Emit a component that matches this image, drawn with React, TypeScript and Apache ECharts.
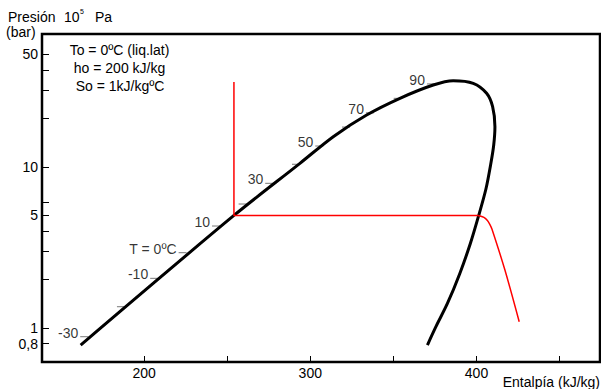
import React, { useEffect, useRef } from 'react';
import * as echarts from 'echarts';

// Axis ticks and labels
const enthalpyTicks = [200, 250, 300, 350, 400, 450];
const enthalpyLabels = [200, 300, 400];
const pressureTicks = [0.8, 1, 2, 3, 4, 5, 6, 10, 20, 30, 40, 50];
const pressureLabels = [0.8, 1, 5, 10, 50];

// Saturation dome (enthalpy kJ/kg, pressure bar)
const domeEnthalpy = [161.85, 254.07, 293.78, 313.81, 333.9, 353.94, 373.97, 386.0, 398.03, 406.09, 409.7, 411.09, 410.36, 408.68, 405.67, 401.16, 396.35, 390.03, 382.51, 375.59, 370.48];
const domePressure = [0.784, 5.0, 10.54, 15.43, 21.04, 26.72, 32.31, 34.36, 33.11, 28.7, 23.69, 17.8, 13.7, 10.59, 7.3, 4.93, 3.36, 2.19, 1.42, 1.02, 0.784];

// Red process line: vertical + horizontal part
const redCornerEnthalpy = [254.07, 254.07, 401.0];
const redCornerPressure = [33.7, 5.0, 5.0];
// Red process line: bend and descending tail
const redTailEnthalpy = [401.0, 404.47, 406.57, 408.08, 409.28, 417.1, 425.7];
const redTailPressure = [5.0, 4.86, 4.65, 4.39, 4.12, 2.29, 1.094];

// Temperature marks on the liquid line
const tempNames = ['-30', '', '-10', 'T = 0ºC', '10', '', '30', '', '50', '', '70', '', '90'];
const tempEnthalpy = [166.4, 188.5, 208.5, 225.6, 245.7, 261.7, 277.7, 293.8, 307.8, 323.9, 338.3, 355.0, 375.0];
const tempPressure = [0.883, 1.356, 2.035, 2.936, 4.3, 5.89, 7.92, 10.4, 13.5, 17.7, 21.7, 26.7, 32.8];

const FONT = '"Liberation Sans", Arial, sans-serif';

export default function App() {
  const ref = useRef<HTMLDivElement>(null);

  useEffect(() => {
    if (!ref.current) return;
    const chart = echarts.init(ref.current, undefined, { renderer: 'svg' });

    const zip = (a: number[], b: number[]) => a.map((v, i) => [v, b[i]]);

    chart.setOption({
      animation: false,
      backgroundColor: '#fff',
      textStyle: { fontFamily: FONT },
      grid: {
        left: 42,
        right: 1,
        top: 34,
        bottom: 27,
        show: true,
        borderColor: '#000',
        borderWidth: 2.5,
        backgroundColor: 'transparent',
      },
      xAxis: {
        type: 'value',
        min: 138.6,
        max: 474.3,
        axisLine: { show: false },
        splitLine: { show: false },
        axisTick: {
          show: true,
          inside: true,
          length: 6,
          lineStyle: { color: '#000', width: 1 },
          customValues: enthalpyTicks,
        },
        axisLabel: {
          show: true,
          customValues: enthalpyLabels,
          margin: 4,
          color: '#000',
          fontSize: 14,
          fontFamily: FONT,
        },
      },
      yAxis: {
        type: 'log',
        logBase: 10,
        min: 0.615,
        max: 67,
        axisLine: { show: false },
        splitLine: { show: false },
        minorTick: { show: false },
        axisTick: {
          show: true,
          inside: true,
          length: 7,
          lineStyle: { color: '#000', width: 1 },
          customValues: pressureTicks,
        },
        axisLabel: {
          show: true,
          customValues: pressureLabels,
          margin: 4,
          color: '#000',
          fontSize: 14,
          fontFamily: FONT,
          formatter: (v: number) => String(Math.round(v * 100) / 100).replace('.', ','),
        },
      },
      series: [
        {
          type: 'scatter',
          silent: true,
          symbol: 'rect',
          symbolSize: [8, 1],
          symbolOffset: [-4, 0],
          itemStyle: { color: '#555' },
          label: {
            show: true,
            position: 'left',
            distance: 2,
            offset: [0, -4],
            color: '#000',
            fontSize: 14,
            fontFamily: FONT,
            formatter: (p: any) => p.name,
          },
          data: tempNames.map((n, i) => ({ name: n, value: [tempEnthalpy[i], tempPressure[i]] })),
          z: 2,
        },
        {
          type: 'line',
          silent: true,
          showSymbol: false,
          smooth: 0.3,
          lineStyle: { color: '#000', width: 3 },
          data: zip(domeEnthalpy, domePressure),
          z: 3,
        },
        {
          type: 'line',
          silent: true,
          showSymbol: false,
          lineStyle: { color: '#ff0000', width: 1.5 },
          data: zip(redCornerEnthalpy, redCornerPressure),
          z: 4,
        },
        {
          type: 'line',
          silent: true,
          showSymbol: false,
          smooth: 0.3,
          lineStyle: { color: '#ff0000', width: 1.5 },
          data: zip(redTailEnthalpy, redTailPressure),
          z: 4,
        },
      ],
      graphic: [
        { type: 'text', x: 8, y: 17, style: { text: 'Presión', font: `14px ${FONT}`, fill: '#000', verticalAlign: 'middle' } },
        { type: 'text', x: 64, y: 17, style: { text: '10', font: `14px ${FONT}`, fill: '#000', verticalAlign: 'middle' } },
        { type: 'text', x: 80, y: 11, style: { text: '5', font: `7px ${FONT}`, fill: '#000', verticalAlign: 'middle' } },
        { type: 'text', x: 95, y: 17, style: { text: 'Pa', font: `14px ${FONT}`, fill: '#000', verticalAlign: 'middle' } },
        { type: 'text', x: 6, y: 31.5, style: { text: '(bar)', font: `14px ${FONT}`, fill: '#000', verticalAlign: 'middle' } },
        { type: 'text', x: 119.5, y: 50, style: { text: 'To = 0ºC (liq.lat)', font: `14px ${FONT}`, fill: '#000', align: 'center', verticalAlign: 'middle' } },
        { type: 'text', x: 119.5, y: 68.3, style: { text: 'ho = 200 kJ/kg', font: `14px ${FONT}`, fill: '#000', align: 'center', verticalAlign: 'middle' } },
        { type: 'text', x: 120, y: 85.5, style: { text: 'So = 1kJ/kgºC', font: `14px ${FONT}`, fill: '#000', align: 'center', verticalAlign: 'middle' } },
        { type: 'text', x: 600, y: 381.5, style: { text: 'Entalpía (kJ/kg)', font: `14px ${FONT}`, fill: '#000', align: 'right', verticalAlign: 'middle' } },
      ],
    });

    return () => chart.dispose();
  }, []);

  return (
    <div
      ref={ref}
      style={{ position: 'absolute', left: 0, top: 0, width: 601, height: 389 }}
    />
  );
}
